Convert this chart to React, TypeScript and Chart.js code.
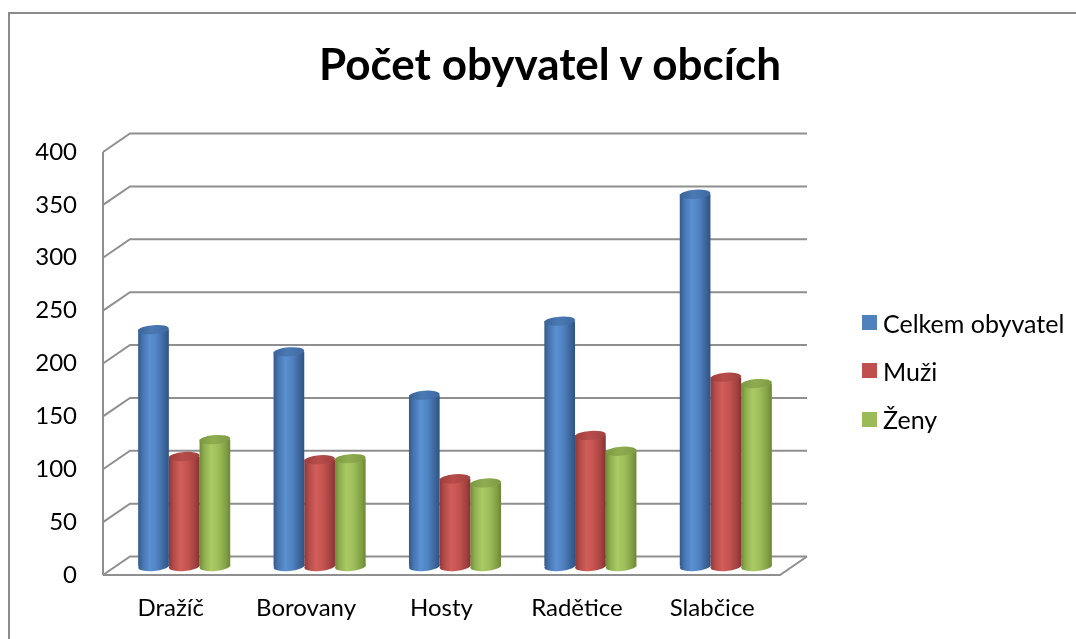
import React, { useEffect, useRef } from "react";
import { Chart, registerables } from "chart.js";

Chart.register(...registerables);

// ---- data ----
const chartTitle = "Počet obyvatel v obcích";
const categories = ["Dražíč", "Borovany", "Hosty", "Radětice", "Slabčice"];
const seriesNames = ["Celkem obyvatel", "Muži", "Ženy"];
const celkemObyvatel = [224, 203, 162, 232, 352];
const muzi = [104, 101, 83, 124, 179];
const zeny = [120, 102, 79, 109, 173];
const yMin = 0;
const yMax = 400;
const yStep = 50;

// ---- styles ----
const seriesColors = ["#4F81BD", "#C0504D", "#9BBB59"];
const bodyStops = [
  ["#33598a", "#4675b0", "#5b90d2", "#4f82c0", "#3b6499", "#2f5283"],
  ["#8f3735", "#b34b48", "#d25e5a", "#c4524f", "#a24240", "#853331"],
  ["#6f8b37", "#8fae4f", "#abcb65", "#9dbd5b", "#82a044", "#6c8735"],
];
const capStops = [
  ["#3a6399", "#4a79b4", "#3f6aa2"],
  ["#9c3e3c", "#b84d4a", "#a04240"],
  ["#7b9840", "#8fad50", "#7e9b43"],
];
const FONT = "Lato, 'Open Sans', sans-serif";
const CAT_PCT = 0.68;
const WALL_DX = 27;
const WALL_DY = -18.5;
const BAR_DX = 13.5;
const BAR_DY = -8.5;
const CAP_RY = 4.5;
const TILT = -0.08;
const GRID_COLOR = "#8f8f8f";

function bodyGradient(ctx: CanvasRenderingContext2D, x0: number, x1: number, idx: number) {
  const g = ctx.createLinearGradient(x0, 0, x1, 0);
  const s = bodyStops[idx];
  const pos = [0, 0.15, 0.38, 0.62, 0.86, 1];
  s.forEach((c, i) => g.addColorStop(pos[i], c));
  return g;
}

function capGradient(ctx: CanvasRenderingContext2D, x0: number, x1: number, idx: number) {
  const g = ctx.createLinearGradient(x0, 0, x1, 0);
  const s = capStops[idx];
  g.addColorStop(0, s[0]);
  g.addColorStop(0.45, s[1]);
  g.addColorStop(1, s[2]);
  return g;
}

const wallPlugin = {
  id: "wall3d",
  beforeDatasetsDraw(chart: any) {
    const { ctx, chartArea } = chart;
    const ys = chart.scales.y;
    const { left, right, top, bottom } = chartArea;
    ctx.save();
    ctx.strokeStyle = GRID_COLOR;
    ctx.lineWidth = 2;
    ctx.lineCap = "butt";
    for (let v = yMin; v <= yMax; v += yStep) {
      const y = ys.getPixelForValue(v);
      ctx.beginPath();
      ctx.moveTo(left, y);
      ctx.lineTo(left + WALL_DX, y + WALL_DY);
      ctx.lineTo(right + WALL_DX, y + WALL_DY);
      ctx.stroke();
    }
    // front left edge
    ctx.beginPath();
    ctx.moveTo(left, top);
    ctx.lineTo(left, bottom);
    ctx.stroke();
    // floor front + right edge
    ctx.beginPath();
    ctx.moveTo(left, bottom);
    ctx.lineTo(right, bottom);
    ctx.lineTo(right + WALL_DX, bottom + WALL_DY);
    ctx.stroke();
    ctx.restore();
    // shift bars to mid depth
    ctx.save();
    ctx.translate(BAR_DX, BAR_DY);
  },
  afterDatasetsDraw(chart: any) {
    const { ctx } = chart;
    const n = chart.data.datasets.length;
    for (let di = 0; di < n; di++) {
      const meta = chart.getDatasetMeta(di);
      meta.data.forEach((el: any) => {
        const { x, base, width } = el.getProps(["x", "y", "base", "width"], true);
        const rx = width / 2;
        ctx.beginPath();
        ctx.ellipse(x, base, rx, CAP_RY, TILT, 0, Math.PI * 2);
        ctx.fillStyle = bodyGradient(ctx, x - rx, x + rx, di);
        ctx.fill();
      });
    }
    for (let di = 0; di < n; di++) {
      const meta = chart.getDatasetMeta(di);
      meta.data.forEach((el: any) => {
        const { x, y, width } = el.getProps(["x", "y", "base", "width"], true);
        const rx = width / 2;
        ctx.beginPath();
        ctx.ellipse(x, y, rx, CAP_RY, TILT, 0, Math.PI * 2);
        ctx.fillStyle = capGradient(ctx, x - rx, x + rx, di);
        ctx.fill();
      });
    }
    ctx.restore();
  },
};

function scriptedBody(idx: number) {
  return (c: any) => {
    const chart = c.chart;
    const xs = chart.scales && chart.scales.x;
    if (!xs || c.type !== "data" || !isFinite(xs.left) || xs.right <= xs.left) return seriesColors[idx];
    const center = xs.getPixelForValue(c.dataIndex);
    const cat = (xs.right - xs.left) / categories.length;
    const group = cat * CAT_PCT;
    const bw = group / chart.data.datasets.length;
    const x0 = center - group / 2 + idx * bw;
    return bodyGradient(chart.ctx, x0, x0 + bw, idx);
  };
}

export default function App() {
  const canvasRef = useRef<HTMLCanvasElement | null>(null);

  useEffect(() => {
    const canvas = canvasRef.current;
    if (!canvas) return;
    const values = [celkemObyvatel, muzi, zeny];
    const chart = new Chart(canvas, {
      type: "bar",
      data: {
        labels: categories,
        datasets: seriesNames.map((name, i) => ({
          label: name,
          data: values[i],
          backgroundColor: scriptedBody(i) as any,
          borderWidth: 0,
          categoryPercentage: CAT_PCT,
          barPercentage: 1.0,
        })),
      },
      options: {
        responsive: false,
        devicePixelRatio: 1,
        animation: false,
        events: [],
        layout: { padding: { left: 13, top: 152, right: 296, bottom: 14 } },
        plugins: {
          legend: { display: false },
          title: { display: false },
          tooltip: { enabled: false },
        },
        scales: {
          x: {
            grid: { display: false, drawTicks: false },
            border: { display: false },
            ticks: { color: "#000", padding: 19, font: { family: FONT, size: 24 } },
            afterFit: (s: any) => {
              s.height = 50;
            },
          },
          y: {
            min: yMin,
            max: yMax,
            grid: { display: false, drawTicks: false },
            border: { display: false },
            ticks: { stepSize: yStep, color: "#000", padding: 26, font: { family: FONT, size: 24 } },
            afterFit: (s: any) => {
              s.width = 90;
            },
          },
        },
      },
      plugins: [wallPlugin],
    });
    return () => chart.destroy();
  }, []);

  const legendCenters = [322.5, 370.5, 419];

  return (
    <div
      style={{
        position: "fixed",
        left: 0,
        top: 0,
        width: 1076,
        height: 639,
        overflow: "hidden",
        background: "#fff",
      }}
    >
      <div
        style={{
          position: "absolute",
          left: 8,
          top: 12,
          width: 1200,
          height: 800,
          border: "2px solid #8b8b8b",
        }}
      />
      <canvas
        ref={canvasRef}
        width={1076}
        height={639}
        style={{ position: "absolute", left: 0, top: 0, display: "block" }}
      />
      <div
        style={{
          position: "absolute",
          left: 50,
          width: 1000,
          top: 41,
          textAlign: "center",
          fontFamily: FONT,
          fontWeight: 700,
          fontSize: 44,
          lineHeight: "44px",
          color: "#000",
          whiteSpace: "nowrap",
        }}
      >
        {chartTitle}
      </div>
      {seriesNames.map((name, i) => (
        <div
          key={name}
          style={{
            position: "absolute",
            left: 862,
            top: legendCenters[i] - 15,
            height: 30,
            display: "flex",
            alignItems: "center",
            fontFamily: FONT,
            fontSize: 25,
            color: "#000",
            whiteSpace: "nowrap",
          }}
        >
          <span
            style={{
              display: "inline-block",
              width: 15,
              height: 15,
              background: seriesColors[i],
              marginRight: 6,
            }}
          />
          <span>{name}</span>
        </div>
      ))}
    </div>
  );
}
